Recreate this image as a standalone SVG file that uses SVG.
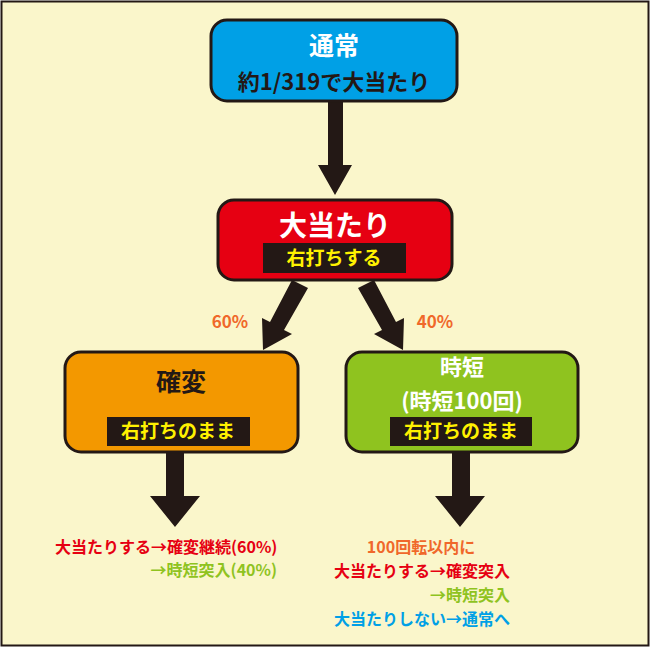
<svg xmlns="http://www.w3.org/2000/svg" width="650" height="647" viewBox="0 0 650 647">
<style>
text{font-family:"Noto Sans CJK JP","Noto Sans",sans-serif;font-weight:bold;text-anchor:middle}
.n{stroke:#231815;stroke-width:3}
.bar{fill:#231815}
.y{fill:#fff100;font-size:19px}
.s{font-size:16px}
</style>
<rect x="1.5" y="1.5" width="647" height="644" fill="#faf6cb" stroke="#231815" stroke-width="2"/>
<g id="connectors" fill="#231815">
<polygon points="328,101 343,101 343,165 352,165 335,195 318,165 328,165"/>
<polygon points="292,280 308,288 284,330 292,334 263,350 262,318 270,322"/>
<polygon points="358,288 374,280 396,322 404,318 403,350 374,334 382,330"/>
<polygon points="166,452 184,452 184,496 200,496 175,527 150,496 166,496"/>
<polygon points="452,452 470,452 470,496 485,496 460,527 435,496 452,496"/>
</g>
<g id="n1">
<rect class="n" x="211" y="20" width="246" height="81" rx="16" fill="#00a0e6"/>
<text x="334" y="55" font-size="25" fill="#fff">通常</text>
<text x="334" y="90" font-size="22" fill="#231815">約1/319で大当たり</text>
</g>
<g id="n2">
<rect class="n" x="218" y="200" width="234" height="80" rx="16" fill="#e60012"/>
<text x="335" y="236" font-size="28" fill="#fff">大当たり</text>
<rect class="bar" x="263" y="243" width="143" height="30"/>
<text class="y" x="334" y="265">右打ちする</text>
</g>
<text x="230" y="328" font-size="17" fill="#f0682a">60%</text>
<text x="435" y="328" font-size="17" fill="#f0682a">40%</text>
<g id="n3">
<rect class="n" x="65" y="352" width="233" height="100" rx="16" fill="#f39800"/>
<text x="181" y="391" font-size="25" fill="#231815">確変</text>
<rect class="bar" x="107" y="417" width="143" height="29"/>
<text class="y" x="178" y="438">右打ちのまま</text>
</g>
<g id="n4">
<rect class="n" x="346" y="352" width="232" height="100" rx="16" fill="#8fc31f"/>
<text x="462" y="375" font-size="22" fill="#fff">時短</text>
<text x="462" y="409" font-size="22" fill="#fff">(時短100回)</text>
<rect class="bar" x="390" y="417" width="142" height="29"/>
<text class="y" x="461" y="438">右打ちのまま</text>
</g>
<g id="t1" class="s">
<text x="55" y="553" style="text-anchor:start" fill="#e60012">大当たりする→確変継続(60%)</text>
<text x="277" y="576" style="text-anchor:end" fill="#8fc31f">→時短突入(40%)</text>
</g>
<g id="t2" class="s">
<text x="421" y="553" fill="#f0682a">100回転以内に</text>
<text x="334" y="577" style="text-anchor:start" fill="#e60012">大当たりする→確変突入</text>
<text x="510" y="601" style="text-anchor:end" fill="#8fc31f">→時短突入</text>
<text x="334" y="625" style="text-anchor:start" fill="#00a0e6">大当たりしない→通常へ</text>
</g>
</svg>
